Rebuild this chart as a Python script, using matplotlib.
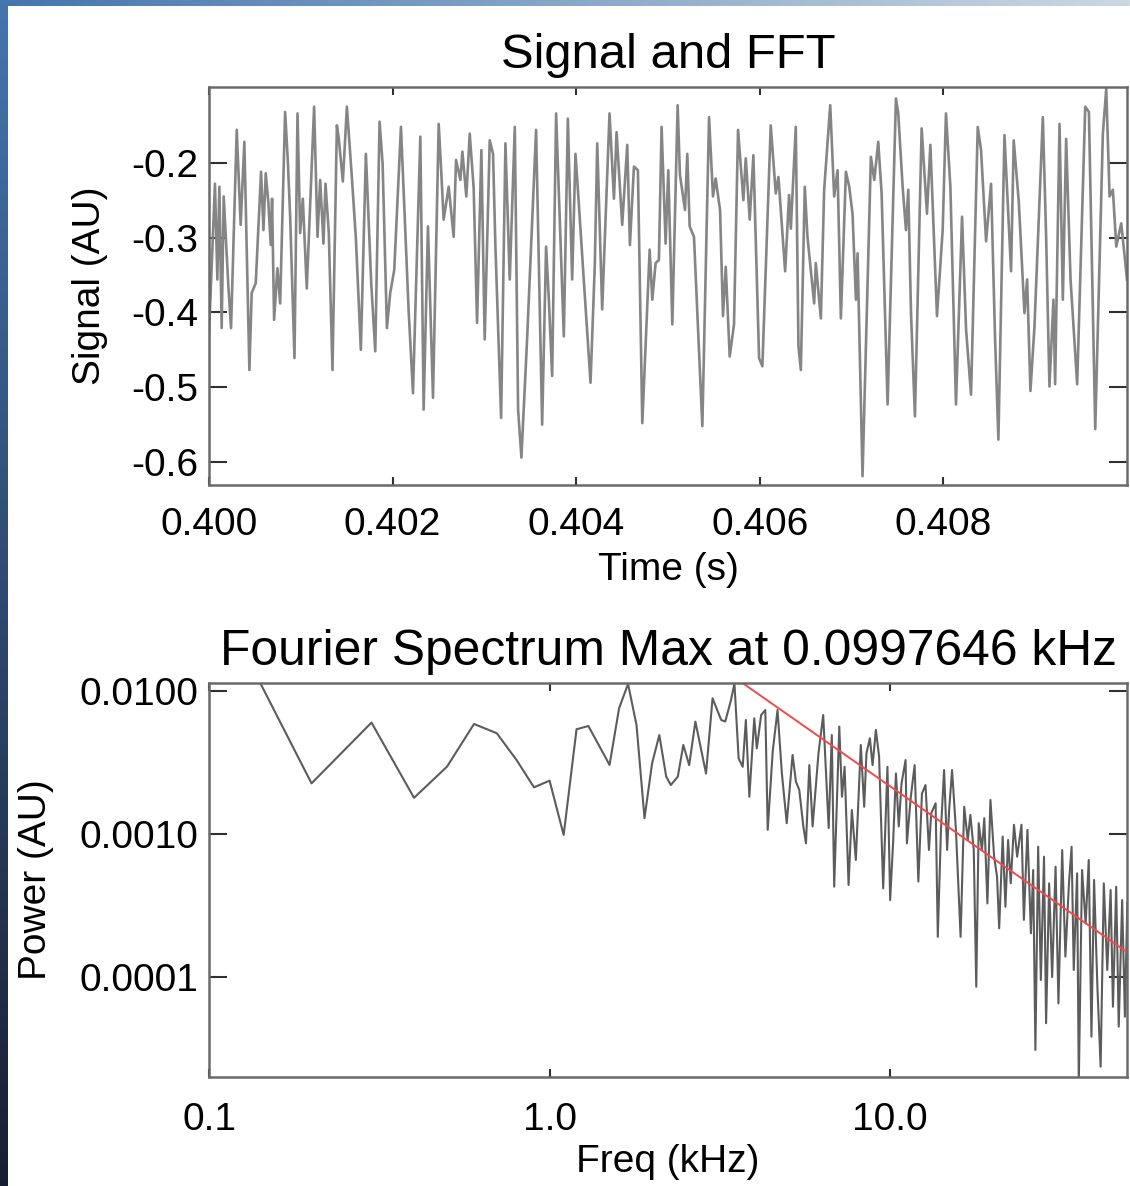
import numpy as np
import matplotlib
matplotlib.use("Agg")
import matplotlib.pyplot as plt

plt.rcParams['font.family'] = ['Liberation Sans', 'DejaVu Sans']

# ---- Señal (tiempo en microsegundos desde 0.400 s) ----
t0 = 0.400
tiempo_us = [0, 65, 91, 113, 138, 160, 211, 240, 302, 345, 385, 440, 465, 509, 567, 593, 618, 647, 673, 687,
             709, 745, 775, 829, 858, 884, 931, 964, 993, 1022, 1065, 1145, 1182, 1211, 1247, 1269, 1305, 1345,
             1393, 1414, 1458, 1502, 1556, 1600, 1654, 1709, 1767, 1811, 1858, 1891, 1938, 1974, 2018, 2091,
             2174, 2222, 2302, 2338, 2385, 2440, 2502, 2527, 2556, 2611, 2665, 2691, 2738, 2760, 2803, 2840,
             2883, 2920, 2967, 3003, 3058, 3094, 3120, 3182, 3229, 3276, 3331, 3367, 3403, 3465, 3563, 3629,
             3672, 3702, 3738, 3781, 3865, 3909, 3956, 3992, 4021, 4156, 4203, 4229, 4283, 4363, 4411, 4440,
             4501, 4556, 4585, 4629, 4672, 4720, 4800, 4829, 4865, 4901, 4930, 4974, 5003, 5047, 5105, 5130,
             5185, 5210, 5236, 5283, 5374, 5447, 5490, 5519, 5567, 5599, 5629, 5672, 5719, 5763, 5821, 5847,
             5890, 5930, 5992, 6028, 6119, 6174, 6203, 6276, 6319, 6338, 6392, 6421, 6447, 6490, 6519, 6592,
             6610, 6665, 6701, 6767, 6810, 6847, 6883, 6938, 6974, 7010, 7047, 7065, 7119, 7210, 7247, 7290,
             7327, 7392, 7483, 7508, 7556, 7592, 7617, 7647, 7690, 7763, 7821, 7858, 7930, 7992, 8028, 8076,
             8137, 8203, 8247, 8301, 8374, 8410, 8465, 8519, 8563, 8599, 8665, 8719, 8737, 8766, 8821, 8883,
             8912, 8948, 8992, 9083, 9119, 9155, 9199, 9217, 9265, 9301, 9337, 9385, 9457, 9545, 9585, 9654,
             9737, 9774, 9810, 9846, 9883, 9937, 10000]
senal = [-0.428, -0.228, -0.356, -0.232, -0.421, -0.245, -0.365, -0.421, -0.156, -0.283, -0.172, -0.477,
         -0.374, -0.361, -0.212, -0.290, -0.214, -0.254, -0.310, -0.248, -0.410, -0.341, -0.388, -0.132,
         -0.196, -0.272, -0.461, -0.134, -0.294, -0.248, -0.368, -0.125, -0.299, -0.223, -0.308, -0.228,
         -0.294, -0.477, -0.150, -0.168, -0.225, -0.125, -0.219, -0.301, -0.450, -0.188, -0.361, -0.452,
         -0.145, -0.201, -0.421, -0.374, -0.343, -0.152, -0.396, -0.508, -0.165, -0.530, -0.285, -0.514,
         -0.148, -0.205, -0.276, -0.232, -0.299, -0.196, -0.223, -0.185, -0.245, -0.161, -0.234, -0.414,
         -0.183, -0.436, -0.170, -0.188, -0.312, -0.541, -0.174, -0.356, -0.152, -0.530, -0.594, -0.436,
         -0.156, -0.550, -0.312, -0.383, -0.485, -0.134, -0.432, -0.141, -0.356, -0.188, -0.241, -0.494,
         -0.334, -0.174, -0.396, -0.134, -0.248, -0.159, -0.283, -0.176, -0.310, -0.205, -0.210, -0.548,
         -0.316, -0.383, -0.334, -0.330, -0.152, -0.308, -0.210, -0.416, -0.123, -0.216, -0.263, -0.188,
         -0.285, -0.299, -0.552, -0.139, -0.245, -0.221, -0.263, -0.405, -0.339, -0.459, -0.416, -0.156,
         -0.250, -0.194, -0.276, -0.190, -0.461, -0.472, -0.150, -0.241, -0.219, -0.345, -0.243, -0.288,
         -0.152, -0.445, -0.477, -0.232, -0.299, -0.388, -0.334, -0.408, -0.236, -0.123, -0.245, -0.210,
         -0.408, -0.212, -0.232, -0.268, -0.383, -0.321, -0.619, -0.192, -0.223, -0.172, -0.241, -0.523,
         -0.114, -0.134, -0.232, -0.290, -0.236, -0.401, -0.539, -0.154, -0.268, -0.176, -0.405, -0.290,
         -0.134, -0.232, -0.523, -0.272, -0.423, -0.510, -0.152, -0.183, -0.305, -0.228, -0.436, -0.570,
         -0.163, -0.299, -0.345, -0.170, -0.252, -0.401, -0.356, -0.505, -0.419, -0.139, -0.299, -0.499,
         -0.383, -0.496, -0.148, -0.383, -0.168, -0.356, -0.496, -0.125, -0.132, -0.556, -0.161, -0.101,
         -0.245, -0.236, -0.312, -0.281, -0.356]

time_ticks = [0.400, 0.402, 0.404, 0.406, 0.408]
time_tick_labels = ['0.400', '0.402', '0.404', '0.406', '0.408']
signal_ticks = [-0.2, -0.3, -0.4, -0.5, -0.6]
signal_tick_labels = ['-0.2', '-0.3', '-0.4', '-0.5', '-0.6']

# ---- Espectro de Fourier ----
freq_khz = [0.1, 0.2, 0.3, 0.4, 0.5, 0.6, 0.7, 0.8, 0.9, 1.0, 1.1, 1.2, 1.3, 1.4, 1.5, 1.6, 1.7, 1.8, 1.9,
            2.0, 2.1, 2.2, 2.27, 2.38, 2.47, 2.57, 2.68, 2.88, 3.01, 3.19, 3.28, 3.41, 3.49, 3.59, 3.69,
            3.77, 3.86, 3.99, 4.06, 4.18, 4.30, 4.37, 4.52, 4.67, 4.81, 4.97, 5.17, 5.29, 5.41, 5.56, 5.66,
            5.79, 5.92, 6.16, 6.36, 6.60, 6.74, 6.85, 7.09, 7.22, 7.35, 7.55, 7.72, 7.93, 8.20, 8.39, 8.52,
            8.72, 8.88, 9.08, 9.28, 9.54, 9.82, 10.0, 10.2, 10.4, 10.6, 10.8, 11.1, 11.2, 11.5, 11.8, 12.1,
            12.4, 12.7, 13.0, 13.2, 13.6, 13.8, 14.1, 14.4, 14.7, 14.9, 15.2, 15.6, 16.1, 16.5, 16.9, 17.2,
            17.6, 17.9, 18.2, 18.6, 18.9, 19.3, 19.7, 20.2, 20.6, 20.9, 21.4, 21.8, 22.2, 22.6, 23.1, 23.6,
            24.3, 24.7, 25.3, 25.9, 26.3, 26.7, 27.2, 27.7, 28.3, 28.7, 29.3, 29.9, 30.6, 31.2, 32.0, 32.7,
            33.5, 34.1, 34.6, 35.4, 35.8, 36.6, 37.5, 38.3, 39.0, 39.7, 40.6, 41.5, 42.4, 43.4, 44.4, 45.1,
            46.1, 46.9, 48.0, 48.9, 49.7]
potencia = [0.057, 0.00226, 0.00601, 0.00179, 0.00296, 0.00588, 0.00506, 0.00329, 0.00212, 0.00236,
            0.000985, 0.00540, 0.00569, 0.00412, 0.00304, 0.00757, 0.0112, 0.00578, 0.00129, 0.00312,
            0.00492, 0.00252, 0.00220, 0.00252, 0.00419, 0.00303, 0.00611, 0.00265, 0.00889, 0.00627,
            0.00611, 0.00865, 0.0113, 0.00338, 0.00295, 0.00627, 0.00182, 0.00644, 0.00397, 0.00679,
            0.00736, 0.00107, 0.00377, 0.00736, 0.00265, 0.00119, 0.00357, 0.00232, 0.00203, 0.00113,
            0.000860, 0.00303, 0.00113, 0.00367, 0.00679, 0.00110, 0.00492, 0.000428, 0.00564, 0.00182,
            0.00295, 0.000440, 0.00147, 0.000658, 0.00419, 0.00155, 0.00367, 0.00467, 0.00303, 0.00534,
            0.00348, 0.000417, 0.00295, 0.000345, 0.000860, 0.00265, 0.00113, 0.00226, 0.00329, 0.000860,
            0.00182, 0.00303, 0.000465, 0.00192, 0.00220, 0.000773, 0.00140, 0.00164, 0.000191, 0.00107,
            0.00280, 0.000773, 0.00147, 0.00280, 0.00107, 0.000191, 0.00155, 0.000908, 0.00136, 0.000773,
            0.0000855, 0.00119, 0.000773, 0.00129, 0.000327, 0.00173, 0.000694, 0.000503, 0.000219,
            0.000958, 0.000310, 0.000908, 0.000452, 0.00116, 0.000694, 0.00116, 0.000251, 0.00107,
            0.000202, 0.000560, 0.0000309, 0.000815, 0.0000953, 0.000694, 0.0000475, 0.000452, 0.000100,
            0.000591, 0.0000654, 0.000773, 0.000139, 0.000452, 0.000815, 0.000112, 0.000531, 0.0000180,
            0.000560, 0.000237, 0.000658, 0.0000383, 0.000477, 0.0000855, 0.0000236, 0.000452, 0.000112,
            0.000406, 0.0000620, 0.000428, 0.0000450, 0.000345, 0.0000528, 0.000327]

freq_ticks = [0.1, 1.0, 10.0]
freq_tick_labels = ['0.1', '1.0', '10.0']
power_ticks = [0.01, 0.001, 0.0001]
power_tick_labels = ['0.0100', '0.0010', '0.0001']

# ajuste de ley de potencia (pendiente -5/3)
fit_amp = 0.1
fit_exp = -5.0 / 3.0
peak_freq = 0.0997646

# ---- Figura ----
fig = plt.figure(figsize=(11.3, 11.86), dpi=100)

# fondo: franjas azules a la izquierda y arriba
H, W = 1186, 1130
img = np.ones((H, W, 3))
rows = np.linspace(0, 1, H)[:, None]
cols = np.linspace(0, 1, W)[:, None]
c_top = np.array([0.27, 0.46, 0.68])
c_bot = np.array([0.09, 0.12, 0.20])
c_right = np.array([0.80, 0.85, 0.89])
img[:, :8] = (c_top * (1 - rows) + c_bot * rows)[:, None, :]
img[:6, :] = (c_top * (1 - cols) + c_right * cols)[None, :, :]
bg = fig.add_axes([0, 0, 1, 1], zorder=0)
bg.imshow(img, aspect='auto', interpolation='nearest')
bg.axis('off')


def estilo(ax):
    for sp in ax.spines.values():
        sp.set_color('#6a6a6a')
        sp.set_linewidth(1.8)
    ax.tick_params(direction='in', top=True, right=True, width=1.5, color='#303030',
                   labelsize=28, labelcolor='black')
    ax.tick_params(axis='y', length=13, pad=8)
    ax.tick_params(axis='x', length=5.5)
    ax.minorticks_off()


# señal
ax1 = fig.add_axes([0.18496, 0.59106, 0.81239, 0.33558], zorder=1)
t = t0 + np.array(tiempo_us) * 1e-6
ax1.plot(t, senal, color='#858585', lw=1.9)
ax1.set_xlim(0.400, 0.410)
ax1.set_ylim(-0.6307, -0.0987)
ax1.set_xticks(time_ticks)
ax1.set_xticklabels(time_tick_labels)
ax1.set_yticks(signal_ticks)
ax1.set_yticklabels(signal_tick_labels)
estilo(ax1)
ax1.tick_params(axis='x', pad=16)
ax1.set_title("Signal and FFT", fontsize=35.3, pad=13.5)
ax1.set_xlabel("Time (s)", fontsize=28)
ax1.set_ylabel("Signal (AU)", fontsize=28)
ax1.xaxis.set_label_coords(0.5, -0.168)
ax1.yaxis.set_label_coords(-0.110, 0.5)

# espectro
ax2 = fig.add_axes([0.18496, 0.09191, 0.81239, 0.33221], zorder=1)
f = np.array(freq_khz)
ax2.plot(f, potencia, color='#5c5c5c', lw=1.5)
ax2.plot(f, fit_amp * f ** fit_exp, color='#f24a4a', lw=1.4)
ax2.set_xscale('log')
ax2.set_yscale('log')
ax2.set_xlim(0.1, 49.6)
ax2.set_ylim(2.0e-5, 0.01137)
ax2.set_xticks(freq_ticks)
ax2.set_xticklabels(freq_tick_labels)
ax2.set_yticks(power_ticks)
ax2.set_yticklabels(power_tick_labels)
estilo(ax2)
ax2.tick_params(axis='x', pad=18)
ax2.set_title(f"Fourier Spectrum Max at {peak_freq:g} kHz", fontsize=35.8, pad=13)
ax2.set_xlabel("Freq (kHz)", fontsize=28)
ax2.set_ylabel("Power (AU)", fontsize=28)
ax2.xaxis.set_label_coords(0.5, -0.170)
ax2.yaxis.set_label_coords(-0.169, 0.5)

fig.savefig("out.png", dpi=100)
plt.close(fig)
